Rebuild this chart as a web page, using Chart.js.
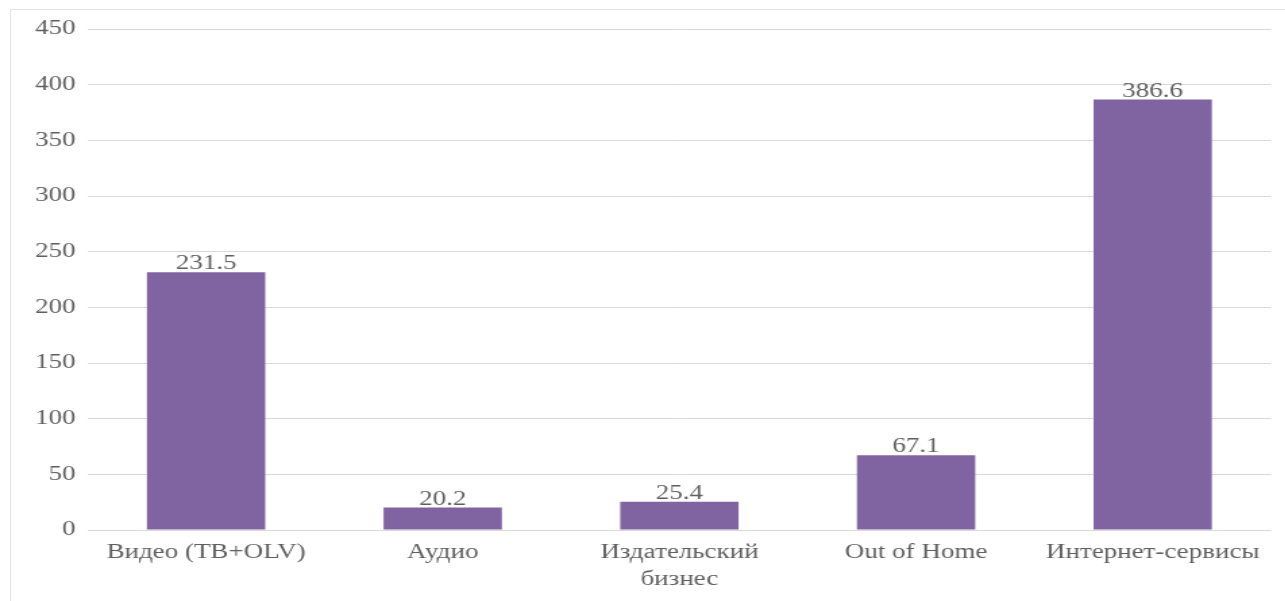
<!DOCTYPE html>
<html>
<head>
<meta charset="utf-8">
<script src="https://cdn.jsdelivr.net/npm/chart.js@4"></script>
<style>
html,body{margin:0;padding:0;background:#fff;width:1285px;height:601px;overflow:hidden}
#frame{position:absolute;left:10px;top:9px;width:1290px;height:600px;border:1px solid #e3e3e3;box-sizing:border-box}
#wrap{position:absolute;left:0;top:0;width:952px;height:601px;transform-origin:0 0;transform:scaleX(1.35)}
</style>
</head>
<body>
<div id="frame"></div>
<div id="wrap"><canvas id="c"></canvas></div>
<script>
const categories = ['Видео (ТВ+OLV)', 'Аудио', ['Издательский', 'бизнес'], 'Out of Home', 'Интернет-сервисы'];
const values = [231.5, 20.2, 25.4, 67.1, 386.6];
const valueLabels = ['231.5', '20.2', '25.4', '67.1', '386.6'];
const yMin = 0, yMax = 450, yStep = 50;

const FONT = '"Liberation Serif", "DejaVu Serif", serif';
const TEXT = '#5f5f5f';

const dataLabels = {
  id: 'dataLabels',
  afterDatasetsDraw(chart) {
    const ctx = chart.ctx;
    const meta = chart.getDatasetMeta(0);
    ctx.save();
    ctx.font = '20px ' + FONT;
    ctx.fillStyle = TEXT;
    ctx.textAlign = 'center';
    ctx.textBaseline = 'alphabetic';
    meta.data.forEach((bar, i) => {
      ctx.fillText(valueLabels[i], bar.x, bar.y - 3);
    });
    ctx.restore();
  }
};

new Chart(document.getElementById('c'), {
  type: 'bar',
  data: {
    labels: categories,
    datasets: [{
      data: values,
      backgroundColor: '#8064a2',
      borderWidth: 0,
      categoryPercentage: 1.0,
      barPercentage: 0.5
    }]
  },
  options: {
    responsive: true,
    maintainAspectRatio: false,
    animation: false,
    layout: { padding: { left: 0, right: 10.5, top: 29, bottom: 0 } },
    plugins: { legend: { display: false }, tooltip: { enabled: false } },
    scales: {
      x: {
        grid: { display: false, drawTicks: false },
        border: { display: false },
        ticks: { color: TEXT, font: { family: FONT, size: 20, lineHeight: 1.35 }, padding: 9, maxRotation: 0, autoSkip: false },
        afterFit(s) { s.height = 71; }
      },
      y: {
        min: yMin, max: yMax,
        grid: { color: '#d9d9d9', lineWidth: 1, drawTicks: false },
        border: { display: false },
        ticks: { stepSize: yStep, color: TEXT, font: { family: FONT, size: 20 }, padding: 9 },
        afterFit(s) { s.width = 65; }
      }
    }
  },
  plugins: [dataLabels]
});
</script>
</body>
</html>
